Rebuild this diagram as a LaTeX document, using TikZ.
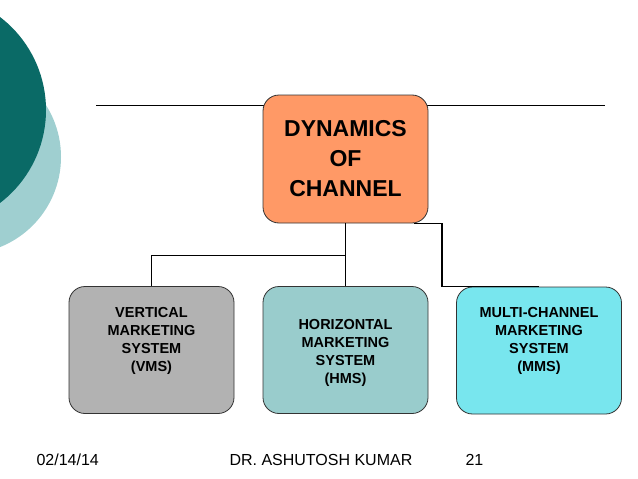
\documentclass[tikz,border=0pt]{standalone}
\usepackage{fontspec}
\setmainfont{Liberation Sans}

\definecolor{tealdark}{HTML}{0A6A66}
\definecolor{teallight}{HTML}{9FCFD0}
\definecolor{dynfill}{HTML}{FF9966}
\definecolor{vmsfill}{HTML}{B2B2B2}
\definecolor{hmsfill}{HTML}{99CCCC}
\definecolor{mmsfill}{HTML}{78E6EE}

\tikzset{
  chanbox/.style={draw=black!80, line width=0.8pt, rounded corners=16pt,
    minimum width=165pt, minimum height=127pt, align=center,
    font=\bfseries\fontsize{14.5}{18}\selectfont},
  topbox/.style={chanbox, minimum height=128pt,
    font=\bfseries\fontsize{23}{30}\selectfont},
  link/.style={line width=1.5pt, black},
  foot/.style={font=\fontsize{16}{18}\selectfont, anchor=base west}
}

\begin{document}
\begin{tikzpicture}
  [x=1pt,y=-1pt]

  \useasboundingbox (0,0) rectangle (638,479);
  \fill[white] (0,0) rectangle (638,479);

  % slide decoration
  \begin{scope}
    \clip (0,0) rectangle (638,479);
    \fill[teallight] (-36,157) circle [radius=97pt];
    \fill[tealdark] (-71,110) circle [radius=117pt];
  \end{scope}

  % title rule
  \coordinate (ruleL) at (96,105);
  \coordinate (ruleR) at (605,105);
  \draw[line width=0.8pt] (ruleL) -- (ruleR);

  % boxes
  \node[topbox, fill=dynfill] (dyn) at (345.5,159) {DYNAMICS\\OF\\CHANNEL};

  \node[chanbox, fill=vmsfill] (vms) at (151.5,350)
    {VERTICAL\\MARKETING\\SYSTEM\\(VMS)\\[4pt]};
  \node[chanbox, fill=hmsfill] (hms) at (345.5,350)
    {\\[-2pt]HORIZONTAL\\MARKETING\\SYSTEM\\(HMS)};
  \node[chanbox, fill=mmsfill] (mms) at (539,350.5)
    {MULTI-CHANNEL\\MARKETING\\SYSTEM\\(MMS)\\[4pt]};

  % connectors
  \draw[link] (dyn.south) -- ++(0,32) -| (vms.north);
  \draw[link] (dyn.south) -- (hms.north);
  \draw[link] ([xshift=-14pt]dyn.south east) -| ([xshift=-97pt]mms.north)
    -- (mms.north);

  % footer
  \node[foot] (date) at (33,465) {02/14/14};
  \node[foot] (author) at (226,465) {DR. ASHUTOSH KUMAR};
  \node[foot] (page) at (462,465) {21};
\end{tikzpicture}
\end{document}
